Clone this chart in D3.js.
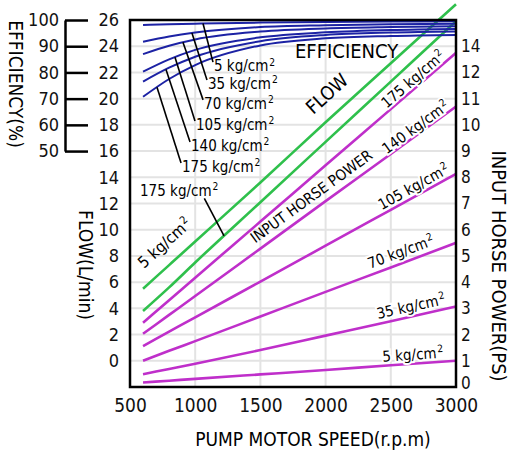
<!DOCTYPE html>
<html>
<head>
<meta charset="utf-8">
<script src="https://cdn.jsdelivr.net/npm/d3@7"></script>
<style>
body { margin: 0; background: #fff; }
svg { display: block; font-family: "DejaVu Sans Condensed", "Liberation Sans Narrow", "DejaVu Sans", sans-serif; font-stretch: condensed; }
</style>
</head>
<body>
<svg id="chart" width="513" height="450"></svg>
<script>
// pump speed (r.p.m) at which the curves were read
var speeds = [600, 800, 1000, 1500, 2000, 2500, 3000];
var pressures = [5, 35, 70, 105, 140, 175];

// efficiency (%) for each pressure
var eff5   = [98.1, 98.4, 98.6, 99.0, 99.2, 99.4, 99.5];
var eff35  = [91.7, 93.7, 95.2, 97.3, 98.0, 98.4, 98.6];
var eff70  = [87.0, 90.2, 92.6, 95.6, 96.8, 97.3, 97.6];
var eff105 = [80.3, 85.0, 88.6, 93.4, 95.3, 96.2, 96.6];
var eff140 = [76.5, 81.8, 86.0, 91.9, 94.3, 95.2, 95.6];
var eff175 = [70.7, 77.5, 82.8, 90.3, 93.0, 93.9, 94.3];

// flow (L/min) at 5 and 175 kg/cm2
var flow5   = [5.5, 7.3, 9.1, 13.6, 18.2, 22.7, 27.2];
var flow175 = [3.8, 5.6, 7.5, 12.1, 16.7, 21.3, 25.9];

// input horse power (PS) for each pressure
var hp5   = [0.17, 0.24, 0.31, 0.48, 0.65, 0.83, 1.00];
var hp35  = [0.49, 0.69, 0.89, 1.41, 1.96, 2.51, 3.07];
var hp70  = [1.00, 1.38, 1.75, 2.69, 3.63, 4.56, 5.50];
var hp105 = [1.56, 2.11, 2.66, 4.02, 5.39, 6.76, 8.13];
var hp140 = [2.03, 2.75, 3.47, 5.28, 7.09, 8.89, 10.70];
var hp175 = [2.45, 3.31, 4.17, 6.31, 8.46, 10.60, 12.75];

// axis ticks
var speedTicks = [500, 1000, 1500, 2000, 2500, 3000];
var flowTicks = [0, 2, 4, 6, 8, 10, 12, 14, 16, 18, 20, 22, 24, 26];
var effTicks = [50, 60, 70, 80, 90, 100];
var hpTickValues = [0, 1, 2, 3, 4, 5, 6, 7, 8, 9, 10, 11, 12, 13];
var hpTickLabels = ["0", "1", "2", "3", "4", "5", "6", "7", "8", "9", "10", "11", "12", "14"];

var effSeries = [eff5, eff35, eff70, eff105, eff140, eff175];
var hpSeries = [hp5, hp35, hp70, hp105, hp140, hp175];

// where the efficiency labels sit: [label rpm, label eff, rpm the leader points to]
var effLabelAt = [[1144, 80.5, 1060], [1098, 73.7, 975], [1068, 66.1, 906],
                  [1006, 58.0, 845], [968, 50.0, 776], [899, 42.0, 707]];
// horse power labels along their lines: [rpm, gap above line]
var hpLabelAt = [[2440, 4], [2410, 5], [2356, 6], [2445, 4], [2478, 2], [2484, 3]];

var blue = "#1c22a4", green = "#2fc04c", magenta = "#bf2fca";

var svg = d3.select("#chart");

var x = d3.scaleLinear().domain([500, 3000]).range([130, 456]);
var yFlow = d3.scaleLinear().domain([-2, 26]).range([387, 20]);
var yEff = d3.scaleLinear().domain([50, 100]).range([yFlow(16), yFlow(26)]);
var yHP = d3.scaleLinear().domain([0, 14]).range([387, 20]);

//linear read of a series at any speed
function valueAt(vals, r) {
    var i = d3.bisectRight(speeds, r) - 1;
    i = Math.max(0, Math.min(i, speeds.length - 2));
    var t = (r - speeds[i]) / (speeds[i + 1] - speeds[i]);
    return vals[i] + t * (vals[i + 1] - vals[i]);
}

//transform that puts a text along a line, gap pixels above it
function along(vals, yScale, r, gap) {
    var x1 = x(r), y1 = yScale(valueAt(vals, r));
    var x2 = x(r + 100), y2 = yScale(valueAt(vals, r + 100));
    var a = Math.atan2(y2 - y1, x2 - x1);
    var px = x1 + gap * Math.sin(a), py = y1 - gap * Math.cos(a);
    return "translate(" + px + "," + py + ") rotate(" + (a * 180 / Math.PI) + ")";
}

function kgLabel(sel, p) {
    sel.append("tspan").text(p + " kg/cm");
    sel.append("tspan").attr("font-size", "0.68em").attr("dy", "-0.55em").attr("dx", 1).text("2");
}

//grid
var grid = svg.append("g").attr("stroke", "#e3e3e3").attr("stroke-width", 2);
grid.selectAll(".gx").data(speedTicks.slice(1, -1)).join("line")
    .attr("x1", function(d) { return x(d); }).attr("x2", function(d) { return x(d); })
    .attr("y1", yFlow(-2)).attr("y2", yFlow(26));
grid.selectAll(".gy").data(flowTicks.slice(0, -1)).join("line")
    .attr("x1", x(500)).attr("x2", x(3000))
    .attr("y1", function(d) { return yFlow(d); }).attr("y2", function(d) { return yFlow(d); });

//axes
var flowAxis = svg.append("g").attr("transform", "translate(130,0)")
    .call(d3.axisLeft(yFlow).tickValues(flowTicks).tickSize(0).tickPadding(11));
flowAxis.select(".domain").remove();

var effAxis = svg.append("g").attr("transform", "translate(65,0)")
    .call(d3.axisLeft(yEff).tickValues(effTicks).tickSizeInner(-23).tickSizeOuter(0).tickPadding(6));
effAxis.selectAll("path, line").attr("stroke", "#000").attr("stroke-width", 2.5);

var hpAxis = svg.append("g").attr("transform", "translate(456,0)")
    .call(d3.axisRight(yHP).tickValues(hpTickValues).tickSize(0).tickPadding(5)
        .tickFormat(function(d, i) { return hpTickLabels[i]; }));
hpAxis.select(".domain").remove();
// the 0 sits a little above the frame corner in the original
hpAxis.select(".tick text").attr("dy", "0.1em");

var speedAxis = svg.append("g").attr("transform", "translate(0,387)")
    .call(d3.axisBottom(x).tickValues(speedTicks).tickSize(0).tickPadding(12).tickFormat(d3.format("d")));
speedAxis.select(".domain").remove();

svg.selectAll("g").attr("font-family", null);
svg.selectAll(".tick text").attr("font-size", 18).attr("fill", "#111");
speedAxis.selectAll("text").attr("font-size", 19);
hpAxis.selectAll("text").attr("font-size", 17);

//curves
var lineOf = function(yScale, curve) {
    return d3.line().x(function(d, i) { return x(speeds[i]); })
        .y(function(d) { return yScale(d); }).curve(curve);
};

svg.append("g").selectAll("path").data(hpSeries).join("path")
    .attr("d", lineOf(yHP, d3.curveMonotoneX))
    .attr("fill", "none").attr("stroke", magenta).attr("stroke-width", 2.6);

svg.append("g").selectAll("path").data([flow5, flow175]).join("path")
    .attr("d", lineOf(yFlow, d3.curveMonotoneX))
    .attr("fill", "none").attr("stroke", green).attr("stroke-width", 2.6);

svg.append("g").selectAll("path").data(effSeries).join("path")
    .attr("d", lineOf(yEff, d3.curveMonotoneX))
    .attr("fill", "none").attr("stroke", blue).attr("stroke-width", 2);

//efficiency labels with leader lines
var effLab = svg.append("g");
effLab.selectAll("line").data(effLabelAt).join("line")
    .attr("x1", function(d) { return x(d[0]) - 1; })
    .attr("y1", function(d) { return yEff(d[1]) - 9; })
    .attr("x2", function(d) { return x(d[2]); })
    .attr("y2", function(d, i) { return yEff(valueAt(effSeries[i], d[2])); })
    .attr("stroke", "#000").attr("stroke-width", 1.6);
effLab.selectAll("text").data(effLabelAt).join("text")
    .attr("x", function(d) { return x(d[0]); })
    .attr("y", function(d) { return yEff(d[1]); })
    .attr("font-size", 15)
    .each(function(d, i) { kgLabel(d3.select(this), pressures[i]); });

//horse power labels on the lines
svg.append("g").selectAll("text").data(hpLabelAt).join("text")
    .attr("transform", function(d, i) { return along(hpSeries[i], yHP, d[0], d[1]); })
    .attr("font-size", 15)
    .attr("stroke", "#fff").attr("stroke-width", 4).attr("paint-order", "stroke")
    .each(function(d, i) { kgLabel(d3.select(this), pressures[i]); });

svg.append("text").attr("transform", along(hp140, yHP, 1493, 7))
    .attr("font-size", 15).text("INPUT HORSE POWER");

//flow labels
svg.append("text").attr("transform", along(flow5, yFlow, 680, 14))
    .attr("font-size", 16).call(kgLabel, 5);
svg.append("text").attr("transform", along(flow5, yFlow, 1976, 13.7))
    .attr("font-size", 19).text("FLOW");

var tipRpm = 1221;
svg.append("line")
    .attr("x1", x(1070)).attr("y1", yFlow(12.4))
    .attr("x2", x(tipRpm)).attr("y2", yFlow(valueAt(flow175, tipRpm)))
    .attr("stroke", "#000").attr("stroke-width", 1.6);
svg.append("text").attr("x", x(577)).attr("y", yFlow(12.57))
    .attr("font-size", 15).call(kgLabel, 175);

svg.append("text").attr("x", 295).attr("y", 58).attr("font-size", 20).text("EFFICIENCY");

//frame
svg.append("rect").attr("x", x(500)).attr("y", yFlow(26))
    .attr("width", x(3000) - x(500)).attr("height", yFlow(-2) - yFlow(26))
    .attr("fill", "none").attr("stroke", "#000").attr("stroke-width", 2.5);

//axis titles
svg.append("text").attr("transform", "translate(9,84) rotate(90)")
    .attr("text-anchor", "middle").attr("font-size", 19).text("EFFICIENCY(%)");
svg.append("text").attr("transform", "translate(79,265) rotate(90)")
    .attr("text-anchor", "middle").attr("font-size", 19).text("FLOW(L/min)");
svg.append("text").attr("transform", "translate(492,266) rotate(90)")
    .attr("text-anchor", "middle").attr("font-size", 20).text("INPUT HORSE POWER(PS)");
svg.append("text").attr("x", 313).attr("y", 446)
    .attr("text-anchor", "middle").attr("font-size", 19).text("PUMP MOTOR SPEED(r.p.m)");
</script>
</body>
</html>
